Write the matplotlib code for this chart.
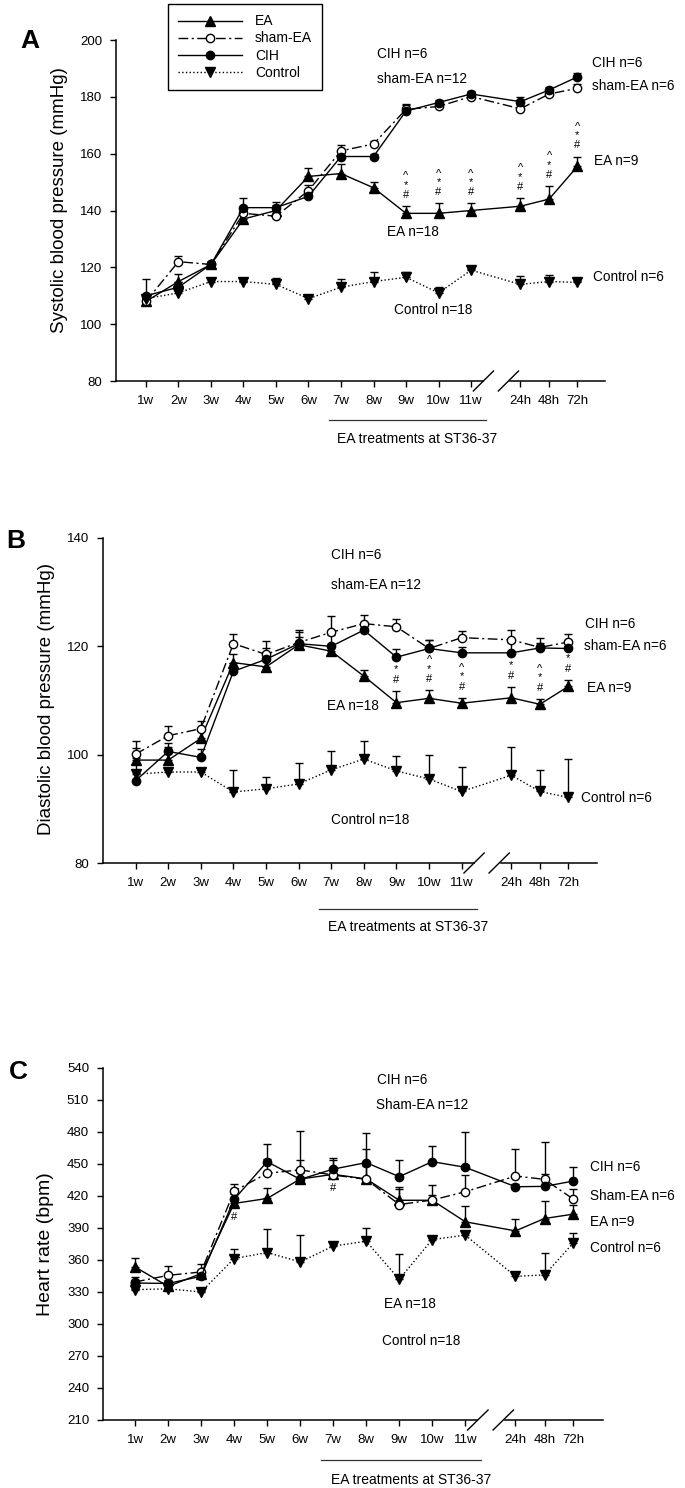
import numpy as np
import matplotlib
matplotlib.use('Agg')
import matplotlib.pyplot as plt
import matplotlib.transforms as mtransforms

# x axis: 11 weeks, then a break, then 24h / 48h / 72h after treatment
x_labels = ['1w', '2w', '3w', '4w', '5w', '6w', '7w', '8w', '9w', '10w', '11w', '24h', '48h', '72h']
x_pos = [1, 2, 3, 4, 5, 6, 7, 8, 9, 10, 11, 12.52, 13.4, 14.27]

# A: systolic blood pressure (mmHg), mean and upper SEM
sbp_ea = [108, 115, 121, 137, 140, 152, 153, 148, 139, 139, 140, 141.5, 144, 155.5]
sbp_ea_err = [2, 2.5, 1, 3, 2, 3, 3.5, 2, 2.5, 3.5, 2.5, 2.8, 4.5, 3.5]
sbp_sham = [108, 122, 121, 139, 138, 147, 161, 163.4, 175.6, 176.6, 180.1, 175.8, 181, 183]
sbp_sham_err = [1, 2, 1, 2, 2, 2, 2, 1, 1.5, 1, 1, 1.5, 1, 1.5]
sbp_cih = [110, 113, 121, 141, 141, 145, 159, 159, 175, 178, 181, 178.3, 182.4, 187]
sbp_cih_err = [6, 2, 1, 3.5, 2, 1.5, 2, 1, 2.5, 1, 1, 1.5, 1, 1.5]
sbp_ctrl = [109, 111, 115, 115, 114, 109, 113, 115, 116.5, 111, 119, 114, 115, 114.7]
sbp_ctrl_err = [1, 1, 1, 1, 2.4, 1, 3, 3.5, 2, 2, 0.5, 3, 2.4, 0.5]

# B: diastolic blood pressure (mmHg)
dbp_ea = [99, 99, 103, 117, 116.2, 120.3, 119.1, 114.5, 109.6, 110.4, 109.5, 110.5, 109.3, 112.6]
dbp_ea_err = [0.3, 2.5, 1.5, 1.5, 1.5, 1.5, 1, 1.2, 2.2, 1.5, 1, 2, 1, 1.2]
dbp_sham = [100.1, 103.5, 104.8, 120.5, 118.5, 120.7, 122.6, 124.2, 123.6, 119.6, 121.6, 121.2, 119.8, 120.8]
dbp_sham_err = [2.5, 1.8, 1.5, 1.8, 2.5, 2, 3, 1.6, 1.5, 1.5, 1.2, 1.8, 1.8, 1.4]
dbp_cih = [95.2, 100.6, 99.5, 115.4, 117.6, 120.5, 120, 123, 118, 119.6, 118.8, 118.8, 119.7, 119.6]
dbp_cih_err = [6, 1.5, 1.5, 1.5, 2, 2.5, 2, 1, 1.5, 1.5, 1, 2, 1, 1.5]
dbp_ctrl = [96.4, 96.8, 96.8, 93.1, 93.7, 94.6, 97.2, 99.2, 97, 95.5, 93.2, 96.2, 93.2, 92.1]
dbp_ctrl_err = [0.5, 0.5, 0.5, 4, 2.2, 3.9, 3.4, 3.4, 2.7, 4.4, 4.5, 5.3, 3.9, 7.1]

# C: heart rate (bpm)
hr_ea = [353.5, 335.3, 347.2, 413, 417.7, 435.9, 440.3, 436, 416, 416, 395.8, 387.3, 398.9, 403]
hr_ea_err = [8, 3, 3, 4, 10, 6, 5, 12, 12, 5, 15, 11, 16, 8.5]
hr_sham = [339.4, 345.6, 348.8, 424.6, 441.3, 444.5, 439.7, 435.6, 412, 416.2, 424, 438.7, 435.6, 417.1]
hr_sham_err = [5, 9, 7, 7, 13, 36, 14, 28, 15, 14, 16, 25, 35, 9]
hr_cih = [338.4, 338, 344.7, 416.8, 452.2, 435.6, 445.2, 451.3, 438.1, 452.2, 446.9, 428.7, 429, 434]
hr_cih_err = [3, 3, 3, 5, 17, 18, 10, 28, 16, 15, 33, 3, 12, 13]
hr_ctrl = [332.2, 333, 330, 361.3, 367, 358.2, 373, 377.6, 341.9, 379.2, 383.3, 344.7, 346, 376]
hr_ctrl_err = [1, 1, 1, 9, 22, 25, 3, 12, 24, 1, 4, 3, 21, 9]

# positions (index into x_pos) of the ^ * # marks above EA
sig_idx = [8, 9, 10, 11, 12, 13]

plt.rcParams['font.family'] = ['Liberation Sans', 'DejaVu Sans']

W, H = 685, 1488
fig = plt.figure(figsize=(W / 100, H / 100), dpi=100)


def px_axes(l, r, b, t):
    return fig.add_axes([l / W, 1 - b / H, (r - l) / W, (b - t) / H])


styles = [
    ('EA', '^', 'black', '-', 6.5),
    ('sham-EA', 'o', 'white', (0, (7, 2.5, 1.5, 2.5)), 6),
    ('CIH', 'o', 'black', '-', 6),
    ('Control', 'v', 'black', ':', 6.5),
]


def draw_panel(ax, series, errs, ylim, yticks, xlim, line_y, text_y, h_px):
    handles = []
    for (lab, mk, mfc, ls, ms), vals, err in zip(styles, series, errs):
        ax.errorbar(x_pos, vals, yerr=[np.zeros(len(err)), err], fmt='none',
                    ecolor='black', elinewidth=1, capsize=3, capthick=1, zorder=2)
        ln, = ax.plot(x_pos, vals, color='black', lw=1, linestyle=ls, marker=mk,
                      markersize=ms, markerfacecolor=mfc, markeredgecolor='black',
                      markeredgewidth=1, label=lab, zorder=3)
        handles.append(ln)
    ax.set_xlim(*xlim)
    ax.set_ylim(*ylim)
    ax.set_yticks(yticks)
    ax.set_xticks(x_pos)
    ax.set_xticklabels(x_labels)
    ax.tick_params(direction='out', length=4, width=1, labelsize=9.5, pad=6)
    for s in ['top', 'right']:
        ax.spines[s].set_visible(False)
    for s in ['left', 'bottom']:
        ax.spines[s].set_linewidth(1.1)
    # axis break
    ax.axvspan(11.4, 12.14, ymin=-0.05, ymax=1, color='white', zorder=2.7, clip_on=False)
    trans = mtransforms.blended_transform_factory(ax.transData, ax.transAxes)
    dy = 10 / h_px
    for xc in [11.38, 12.15]:
        ax.plot([xc - 0.31, xc + 0.31], [-dy, dy], color='black', lw=1,
                transform=trans, clip_on=False, zorder=4)
    # treatment period
    ax.plot([6.62, 11.47], [line_y, line_y], color='#333333', lw=0.9,
            transform=trans, clip_on=False)
    ax.text(9.35, text_y, 'EA treatments at ST36-37', transform=trans,
            ha='center', va='center', fontsize=10)
    return handles


def sig_marks(ax, vals, errs):
    for i in sig_idx:
        y = vals[i] + errs[i]
        for sym, off in [('#', 8), ('*', 15.5), ('^', 21.5)]:
            ax.annotate(sym, (x_pos[i], y), xytext=(0, off), textcoords='offset points',
                        ha='center', va='center', fontsize=8)


def notes(ax, items):
    for txt, x, y in items:
        ax.text(x, y, txt, ha='left', va='center', fontsize=9.8)


# ---- A
ax_a = px_axes(116, 605, 381, 40)
hs = draw_panel(ax_a, [sbp_ea, sbp_sham, sbp_cih, sbp_ctrl],
                [sbp_ea_err, sbp_sham_err, sbp_cih_err, sbp_ctrl_err],
                (80, 200), np.arange(80, 201, 20), (0.08, 15.12), -0.114, -0.17, 341)
sig_marks(ax_a, sbp_ea, sbp_ea_err)
notes(ax_a, [('CIH n=6', 8.11, 195), ('sham-EA n=12', 8.11, 186.3),
             ('EA n=18', 8.43, 132.6), ('Control n=18', 8.63, 105),
             ('CIH n=6', 14.72, 191.8), ('sham-EA n=6', 14.72, 183.8),
             ('EA n=9', 14.78, 157.4), ('Control n=6', 14.75, 116.5)])
leg = ax_a.legend(handles=hs, loc='upper left', bbox_to_anchor=(168 / W, 1 - 4 / H),
                  bbox_transform=fig.transFigure, borderaxespad=0, frameon=True,
                  fancybox=False, edgecolor='black', framealpha=1, handlelength=4.6,
                  handletextpad=0.9, labelspacing=0.22, borderpad=0.75,
                  prop={'size': 10})
leg.get_frame().set_linewidth(1)

# ---- B
ax_b = px_axes(103, 597, 863, 538)
draw_panel(ax_b, [dbp_ea, dbp_sham, dbp_cih, dbp_ctrl],
           [dbp_ea_err, dbp_sham_err, dbp_cih_err, dbp_ctrl_err],
           (80, 140), [80, 100, 120, 140], (0.0, 15.15), -0.142, -0.197, 325)
sig_marks(ax_b, dbp_ea, dbp_ea_err)
notes(ax_b, [('CIH n=6', 6.98, 136.9), ('sham-EA n=12', 6.98, 131.3),
             ('EA n=18', 6.88, 108.9), ('Control n=18', 6.98, 88),
             ('CIH n=6', 14.77, 124.2), ('sham-EA n=6', 14.74, 120),
             ('EA n=9', 14.84, 112.4), ('Control n=6', 14.67, 92)])

# ---- C
ax_c = px_axes(103, 603, 1420, 1068)
draw_panel(ax_c, [hr_ea, hr_sham, hr_cih, hr_ctrl],
           [hr_ea_err, hr_sham_err, hr_cih_err, hr_ctrl_err],
           (210, 540), np.arange(210, 541, 30), (0.03, 15.17), -0.114, -0.17, 352)
for i, off in [(3, -10), (6, -10)]:
    ax_c.annotate('#', (x_pos[i], hr_ea[i]), xytext=(0, off), textcoords='offset points',
                  ha='center', va='center', fontsize=8)
notes(ax_c, [('CIH n=6', 8.34, 529), ('Sham-EA n=12', 8.31, 505.5),
             ('EA n=18', 8.54, 319), ('Control n=18', 8.47, 284.5),
             ('CIH n=6', 14.79, 447.5), ('Sham-EA n=6', 14.79, 420),
             ('EA n=9', 14.79, 396), ('Control n=6', 14.79, 371)])

# panel letters and y labels
for letter, (x, y) in zip('ABC', [(30, 41), (16, 541), (18, 1072)]):
    fig.text(x / W, 1 - y / H, letter, fontsize=19, fontweight='bold', ha='center', va='center')
fig.text(60 / W, 1 - 200 / H, 'Systolic blood pressure (mmHg)', rotation=90,
         ha='center', va='center', fontsize=13.5)
fig.text(47 / W, 1 - 699 / H, 'Diastolic blood pressure (mmHg)', rotation=90,
         ha='center', va='center', fontsize=13.5)
fig.text(45 / W, 1 - 1244 / H, 'Heart rate (bpm)', rotation=90,
         ha='center', va='center', fontsize=14)

fig.savefig('out.png', dpi=100)
